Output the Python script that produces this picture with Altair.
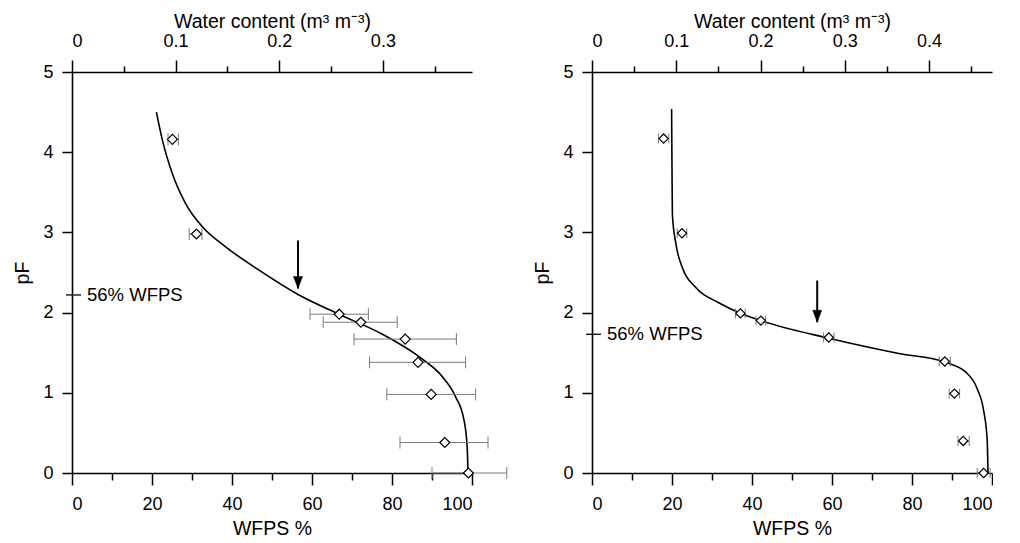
import altair as alt
import pandas as pd

FONT = "Liberation Sans"

# ---------------- Left panel data ----------------
L_PT_WFPS = [25.1, 31.1, 66.8, 72.2, 83.3, 86.5, 89.8, 93.2, 99.1]
L_PT_PF = [4.16, 2.98, 1.98, 1.88, 1.67, 1.38, 0.98, 0.38, 0.0]
L_ERR_LO = [24.0, 29.3, 59.5, 62.8, 70.5, 74.4, 78.7, 82.0, 90.0]
L_ERR_HI = [26.6, 32.5, 74.1, 81.3, 96.1, 98.4, 100.9, 104.0, 108.7]
L_CURVE_WFPS = [21.1, 22.6, 25.1, 28.4, 32.6, 38.4, 46.75, 56.75, 66.75, 77.6, 86.75, 92.6, 95.9, 98.0, 98.8, 99.0]
L_CURVE_PF = [4.50, 4.15, 3.73, 3.36, 3.07, 2.82, 2.53, 2.22, 1.98, 1.73, 1.45, 1.20, 0.95, 0.66, 0.32, 0.0]
L_ARROW = {"x": 56.5, "top": 2.9, "tip": 2.3}
L_MARK_PF = 2.22
L_POROSITY = 0.386
L_WC_TICKS = [0, 0.05, 0.1, 0.15, 0.2, 0.25, 0.3, 0.35]

# ---------------- Right panel data ----------------
R_PT_WFPS = [17.9, 22.5, 37.1, 42.2, 59.2, 88.2, 90.6, 92.8, 97.9]
R_PT_PF = [4.17, 2.99, 1.99, 1.90, 1.69, 1.39, 0.99, 0.40, 0.0]
R_ERR_LO = [16.6, 21.3, 35.9, 41.0, 57.9, 86.8, 89.3, 91.5, 96.3]
R_ERR_HI = [19.2, 23.7, 38.3, 43.4, 60.5, 89.6, 91.9, 94.3, 99.5]
R_CURVE_WFPS = [19.9, 20.0, 20.1, 21.0, 22.6, 26.0, 31.8, 37.2, 42.2, 59.2, 76.7, 88.4, 93.4, 96.3, 97.9, 98.8, 99.0]
R_CURVE_PF = [4.54, 3.8, 3.22, 2.85, 2.56, 2.31, 2.12, 1.99, 1.90, 1.68, 1.49, 1.38, 1.26, 1.05, 0.78, 0.41, 0.0]
R_ARROW = {"x": 56.3, "top": 2.4, "tip": 1.88}
R_MARK_PF = 1.73
R_POROSITY = 0.4746
R_WC_TICKS = [0, 0.05, 0.1, 0.15, 0.2, 0.25, 0.3, 0.35, 0.4, 0.45]

WFPS_TICKS = [0, 10, 20, 30, 40, 50, 60, 70, 80, 90, 100]
PF_TICKS = [0, 1, 2, 3, 4, 5]
MARK_LABEL = "56% WFPS"


def panel(pt_w, pt_pf, lo, hi, cw, cpf, arrow, mark_pf, porosity, wc_ticks, cap, dsize):
    pts = pd.DataFrame({"wfps": pt_w, "pf": pt_pf, "lo": lo, "hi": hi})
    pts["wc"] = pts["wfps"] * porosity / 100.0
    curve = pd.DataFrame({"wfps": cw, "pf": cpf, "i": list(range(len(cw)))})
    arr = pd.DataFrame({"x": [arrow["x"]], "top": [arrow["top"]], "tip": [arrow["tip"]]})
    ann = pd.DataFrame({"pf": [mark_pf], "label": [MARK_LABEL]})

    def xs():
        return alt.Scale(domain=[0, 100], nice=False, zero=False)

    yscale = alt.Scale(domain=[0, 5], nice=False, zero=False)

    x_axis = alt.Axis(
        values=WFPS_TICKS,
        title="WFPS %",
        orient="bottom",
        labelExpr="datum.value % 20 == 0 ? datum.label : ''",
        tickSize={"condition": {"test": "datum.value % 20 == 0", "value": 12}, "value": 7},
        labelPadding=10,
        titlePadding=6,
    )
    y_axis = alt.Axis(values=PF_TICKS, format="d", title="pF", tickSize=10, labelPadding=9, titlePadding=10)

    def Y(field="pf"):
        return alt.Y(f"{field}:Q", scale=yscale)

    curve_l = alt.Chart(curve).mark_line(color="black", strokeWidth=1.6, interpolate="monotone").encode(
        x=alt.X("wfps:Q", scale=xs(), axis=x_axis),
        y=alt.Y("pf:Q", scale=yscale, axis=y_axis),
        order="i:Q",
    )
    err = alt.Chart(pts).mark_rule(color="#7a7a7a", strokeWidth=1).encode(
        x=alt.X("lo:Q", scale=xs(), axis=None), x2="hi:Q", y=Y(),
    )
    cap_shape = "M0,-1L0,1"
    cap_lo = alt.Chart(pts).mark_point(shape=cap_shape, size=cap * cap, stroke="#7a7a7a", strokeWidth=1, opacity=1).encode(
        x=alt.X("lo:Q", scale=xs(), axis=None), y=Y())
    cap_hi = alt.Chart(pts).mark_point(shape=cap_shape, size=cap * cap, stroke="#7a7a7a", strokeWidth=1, opacity=1).encode(
        x=alt.X("hi:Q", scale=xs(), axis=None), y=Y())
    dia = alt.Chart(pts).mark_point(shape="diamond", size=dsize, filled=True, fill="white", stroke="black",
                                    strokeWidth=1.2, opacity=1).encode(
        x=alt.X("wfps:Q", scale=xs(), axis=None), y=Y())
    arrow_rule = alt.Chart(arr).mark_rule(color="black", strokeWidth=2).encode(
        x=alt.X("x:Q", scale=xs(), axis=None), y=Y("top"), y2="tip:Q")
    arrow_head = alt.Chart(arr).mark_point(shape="M-0.45,-1.2L0.45,-1.2L0,0Z", size=400, filled=True,
                                           fill="black", stroke="black", strokeWidth=0.5, opacity=1).encode(
        x=alt.X("x:Q", scale=xs(), axis=None), y=Y("tip"))
    ann_tick = alt.Chart(ann).mark_rule(color="black", strokeWidth=1.3).encode(
        x=alt.value(-6), x2=alt.value(9), y=Y())
    ann_text = alt.Chart(ann).mark_text(align="left", baseline="middle", font=FONT, fontSize=18.5,
                                        color="black").encode(
        x=alt.value(15), y=Y(), text="label:N")

    top_axis = alt.Axis(
        orient="top",
        values=wc_ticks,
        title="Water content (m\u00b3 m\u207b\u00b3)",
        labelExpr="abs(datum.value*10 - round(datum.value*10)) < 0.001 ? (datum.value == 0 ? '0' : format(datum.value, '.1f')) : ''",
        tickSize={"condition": {"test": "abs(datum.value*10 - round(datum.value*10)) < 0.001", "value": 12},
                  "value": 6},
        labelPadding=10,
        titlePadding=1,
    )
    top_l = alt.Chart(pts).mark_point(opacity=0).encode(
        x=alt.X("wc:Q", scale=alt.Scale(domain=[0, porosity], nice=False, zero=False), axis=top_axis),
        y=Y(),
    )

    return alt.layer(curve_l, err, cap_lo, cap_hi, dia, arrow_rule, arrow_head, ann_tick, ann_text, top_l
                     ).resolve_scale(x="independent").properties(width=400, height=401)


left = panel(L_PT_WFPS, L_PT_PF, L_ERR_LO, L_ERR_HI, L_CURVE_WFPS, L_CURVE_PF, L_ARROW, L_MARK_PF,
             L_POROSITY, L_WC_TICKS, cap=12, dsize=100)
right = panel(R_PT_WFPS, R_PT_PF, R_ERR_LO, R_ERR_HI, R_CURVE_WFPS, R_CURVE_PF, R_ARROW, R_MARK_PF,
              R_POROSITY, R_WC_TICKS, cap=10, dsize=85)

chart = alt.hconcat(left, right, spacing=23).properties(
    padding={"left": 4, "top": 3, "right": 0, "bottom": 0},
    background="white",
).configure_view(stroke=None).configure_axis(
    grid=False,
    domainColor="black",
    domainWidth=1.6,
    tickColor="black",
    tickWidth=1.5,
    labelFont=FONT,
    labelFontSize=18,
    labelColor="black",
    titleFont=FONT,
    titleFontSize=19.5,
    titleFontWeight="normal",
    titleColor="black",
)

chart.save("out.html", embed_options={"renderer": "svg", "actions": False})
